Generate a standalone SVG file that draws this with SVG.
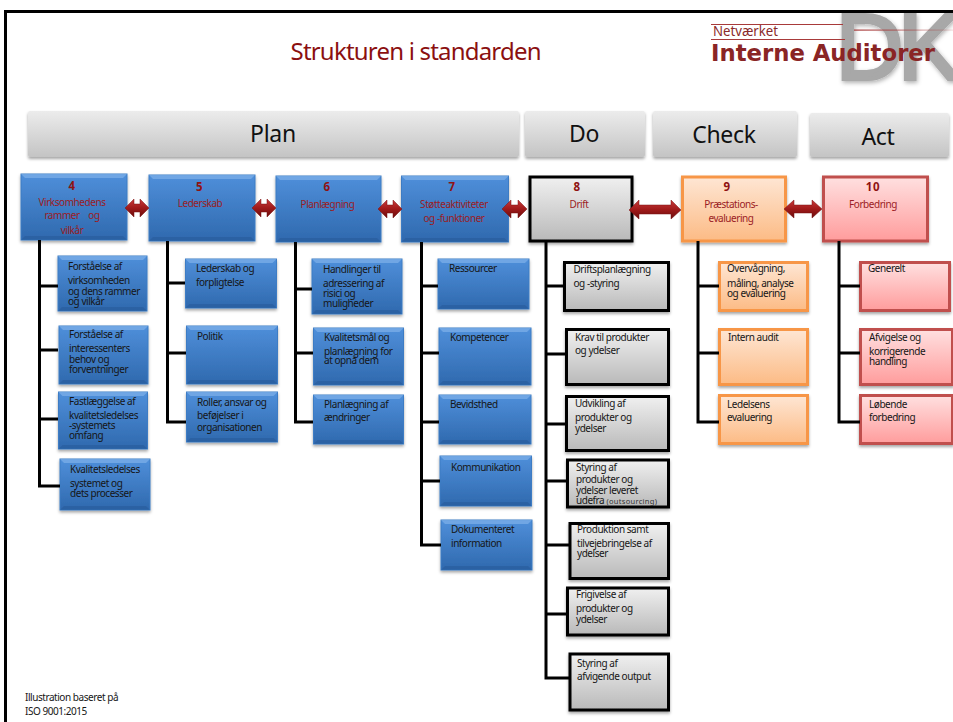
<svg xmlns="http://www.w3.org/2000/svg" width="953" height="722" viewBox="0 0 953 722">
<defs>
<linearGradient id="gBlue" x1="0" y1="0" x2="0" y2="1"><stop offset="0" stop-color="#4f8fda"/><stop offset="1" stop-color="#2f69ae"/></linearGradient>
<linearGradient id="gGrey" x1="0" y1="0" x2="0" y2="1"><stop offset="0" stop-color="#f0f0f0"/><stop offset="1" stop-color="#b9b9b9"/></linearGradient>
<linearGradient id="gOrange" x1="0" y1="0" x2="0" y2="1"><stop offset="0" stop-color="#fee6d4"/><stop offset="1" stop-color="#fcbb85"/></linearGradient>
<linearGradient id="gPink" x1="0" y1="0" x2="0" y2="1"><stop offset="0" stop-color="#ffe0e0"/><stop offset="1" stop-color="#ff9c9c"/></linearGradient>
<linearGradient id="gBar" x1="0" y1="0" x2="0" y2="1"><stop offset="0" stop-color="#ececec"/><stop offset="1" stop-color="#c4c4c4"/></linearGradient>
<linearGradient id="gArrow" x1="0" y1="0" x2="0" y2="1"><stop offset="0" stop-color="#c83a3a"/><stop offset="0.5" stop-color="#a01a1a"/><stop offset="1" stop-color="#6a0c0c"/></linearGradient>
<linearGradient id="gFade" x1="0" y1="0" x2="1" y2="0"><stop offset="0" stop-color="#a83a3a"/><stop offset="1" stop-color="#a83a3a" stop-opacity="0.15"/></linearGradient>
<filter id="sh" x="-10%" y="-10%" width="120%" height="125%"><feDropShadow dx="0" dy="2" stdDeviation="1.5" flood-color="#000" flood-opacity="0.35"/></filter>
<filter id="shDK" x="-10%" y="-10%" width="120%" height="120%"><feDropShadow dx="1" dy="2" stdDeviation="2" flood-color="#000" flood-opacity="0.3"/></filter>
</defs>
<style>
text{font-family:"Noto Sans","DejaVu Sans",sans-serif;font-size:10px;fill:#161616;letter-spacing:-0.45px}
.blue{fill:url(#gBlue);stroke:#3d7cc4;stroke-width:1;filter:url(#sh)}
.grey{fill:url(#gGrey);stroke:#000;stroke-width:3;filter:url(#sh)}
.orange{fill:url(#gOrange);stroke:#f79646;stroke-width:3;filter:url(#sh)}
.pink{fill:url(#gPink);stroke:#c0504d;stroke-width:3;filter:url(#sh)}
.bar{fill:url(#gBar);filter:url(#sh)}
.bt{font-size:23px;fill:#111;text-anchor:middle;letter-spacing:-0.3px}
.num{font-weight:bold;font-size:11.5px;fill:#8f1212;text-anchor:middle;letter-spacing:0.6px}
.head{fill:#9b1c24;text-anchor:middle}
.sm{font-size:7.5px;letter-spacing:0.3px;fill:#333}
.con{fill:none;stroke:#000;stroke-width:3}
.arr{fill:url(#gArrow);stroke:#7a1010;stroke-width:0.5}
.bv{fill:#7fb0ea;opacity:.7}
.bd{fill:#1f4f8c;opacity:.35}
</style>
<rect width="953" height="722" fill="#fff"/>
<path d="M5.500 722V11.500H953" fill="none" stroke="#000" stroke-width="3"/>
<text x="416" y="60" style="font-size:24px;fill:#8b1010;letter-spacing:0" text-anchor="middle" textLength="251">Strukturen i standarden</text>

<g id="logo">
<text x="836" y="79" style="font-family:'Liberation Sans',sans-serif;font-size:93px;fill:#a8a8a8;stroke:#a8a8a8;stroke-width:4;letter-spacing:-5px;filter:url(#shDK)">DK</text>
<path d="M711 24.500H843M711 39.500H845" fill="none" stroke="#a83a3a" stroke-width="1.200"/>
<rect x="854" y="29.500" width="99" height="1.200" fill="url(#gFade)"/>
<text x="713" y="36" style="font-size:14px;fill:#8a2a2a;letter-spacing:0" textLength="65" lengthAdjust="spacingAndGlyphs">Netværket</text>
<text x="711" y="61" style="font-size:23px;font-weight:bold;fill:#8a2525;letter-spacing:0;font-family:'DejaVu Sans',sans-serif" textLength="224" lengthAdjust="spacingAndGlyphs">Interne Auditorer</text>
</g>

<g id="bar-plan"><rect class="bar" x="28" y="111" width="491" height="46" rx="2"/><text class="bt" x="273" y="142">Plan</text></g>
<g id="bar-do"><rect class="bar" x="525" y="111" width="120" height="46" rx="2"/><text class="bt" x="584" y="142">Do</text></g>
<g id="bar-check"><rect class="bar" x="653" y="111" width="144" height="46" rx="2"/><text class="bt" x="724" y="143">Check</text></g>
<g id="bar-act"><rect class="bar" x="810" y="113" width="139" height="44" rx="2"/><text class="bt" x="878" y="145">Act</text></g>

<g id="n4"><rect class="blue" x="21" y="174" width="106" height="66"/><path class="bv" d="M21 174H127L123 178H25Z"/><path class="bd" d="M21 240H127L123 236H25Z"/>
<text class="num" x="72" y="190">4</text><text class="head" x="72" y="206">Virksomhedens</text><text class="head" x="72" y="219" xml:space="preserve">rammer    og</text><text class="head" x="72" y="234">vilkår</text></g>
<g id="n4a"><rect class="blue" x="58" y="256" width="89" height="55"/><path class="bv" d="M58 256H147L143 260H62Z"/><path class="bd" d="M58 311H147L143 307H62Z"/>
<text x="68" y="270">Forståelse af</text><text x="68" y="284">virksomheden</text><text x="68" y="295">og dens rammer</text><text x="68" y="305">og vilkår</text></g>
<g id="n4b"><rect class="blue" x="59" y="326" width="89" height="58"/><path class="bv" d="M59 326H148L144 330H63Z"/><path class="bd" d="M59 384H148L144 380H63Z"/>
<text x="69" y="338">Forståelse af</text><text x="69" y="352">interessenters</text><text x="69" y="363">behov og</text><text x="69" y="373">forventninger</text></g>
<g id="n4c"><rect class="blue" x="58.500" y="392" width="89" height="57"/><path class="bv" d="M58.500 392H147.500L143.500 396H62.500Z"/><path class="bd" d="M58.500 449H147.500L143.500 445H62.500Z"/>
<text x="69" y="405">Fastlæggelse af</text><text x="69" y="419">kvalitetsledelses</text><text x="69" y="429">-systemets</text><text x="69" y="439">omfang</text></g>
<g id="n4d"><rect class="blue" x="60" y="459" width="90" height="51"/><path class="bv" d="M60 459H150L146 463H64Z"/><path class="bd" d="M60 510H150L146 506H64Z"/>
<text x="70" y="473">Kvalitetsledelses</text><text x="70" y="487">systemet og</text><text x="70" y="497">dets processer</text></g>

<g id="n5"><rect class="blue" x="149" y="175" width="106" height="66"/><path class="bv" d="M149 175H255L251 179H153Z"/><path class="bd" d="M149 241H255L251 237H153Z"/>
<text class="num" x="199.500" y="191">5</text><text class="head" x="200" y="207">Lederskab</text></g>
<g id="n5a"><rect class="blue" x="185.500" y="259" width="91" height="49"/><path class="bv" d="M185.500 259H276.500L272.500 263H189.500Z"/><path class="bd" d="M185.500 308H276.500L272.500 304H189.500Z"/>
<text x="196" y="272">Lederskab og</text><text x="196" y="286">forpligtelse</text></g>
<g id="n5b"><rect class="blue" x="186.500" y="326" width="91" height="58"/><path class="bv" d="M186.500 326H277.500L273.500 330H190.500Z"/><path class="bd" d="M186.500 384H277.500L273.500 380H190.500Z"/>
<text x="197" y="340">Politik</text></g>
<g id="n5c"><rect class="blue" x="186.500" y="392" width="91" height="50"/><path class="bv" d="M186.500 392H277.500L273.500 396H190.500Z"/><path class="bd" d="M186.500 442H277.500L273.500 438H190.500Z"/>
<text x="197" y="406">Roller, ansvar og</text><text x="197" y="419">beføjelser i</text><text x="197" y="431">organisationen</text></g>

<g id="n6"><rect class="blue" x="276" y="176" width="105" height="66"/><path class="bv" d="M276 176H381L377 180H280Z"/><path class="bd" d="M276 242H381L377 238H280Z"/>
<text class="num" x="327" y="191">6</text><text class="head" x="327.500" y="208">Planlægning</text></g>
<g id="n6a"><rect class="blue" x="312" y="259" width="90" height="55"/><path class="bv" d="M312 259H402L398 263H316Z"/><path class="bd" d="M312 314H402L398 310H316Z"/>
<text x="323" y="273">Handlinger til</text><text x="323" y="287">adressering af</text><text x="323" y="297">risici og</text><text x="323" y="307">muligheder</text></g>
<g id="n6b"><rect class="blue" x="313.500" y="328" width="90" height="57"/><path class="bv" d="M313.500 328H403.500L399.500 332H317.500Z"/><path class="bd" d="M313.500 385H403.500L399.500 381H317.500Z"/>
<text x="324" y="341">Kvalitetsmål og</text><text x="324" y="355">planlægning for</text><text x="324" y="364">at opnå dem</text></g>
<g id="n6c"><rect class="blue" x="313.500" y="395" width="90" height="49"/><path class="bv" d="M313.500 395H403.500L399.500 399H317.500Z"/><path class="bd" d="M313.500 444H403.500L399.500 440H317.500Z"/>
<text x="324" y="408">Planlægning af</text><text x="324" y="421">ændringer</text></g>

<g id="n7"><rect class="blue" x="401.500" y="176" width="107" height="66"/><path class="bv" d="M401.500 176H508.500L504.500 180H405.500Z"/><path class="bd" d="M401.500 242H508.500L504.500 238H405.500Z"/>
<text class="num" x="452" y="191">7</text><text class="head" x="454" y="208">Støtteaktiviteter</text><text class="head" x="454" y="222">og  -funktioner</text></g>
<g id="n7a"><rect class="blue" x="438" y="259" width="91" height="50"/><path class="bv" d="M438 259H529L525 263H442Z"/><path class="bd" d="M438 309H529L525 305H442Z"/>
<text x="449" y="272">Ressourcer</text></g>
<g id="n7b"><rect class="blue" x="439" y="328" width="92" height="57"/><path class="bv" d="M439 328H531L527 332H443Z"/><path class="bd" d="M439 385H531L527 381H443Z"/>
<text x="450" y="341">Kompetencer</text></g>
<g id="n7c"><rect class="blue" x="439" y="395" width="92" height="49"/><path class="bv" d="M439 395H531L527 399H443Z"/><path class="bd" d="M439 444H531L527 440H443Z"/>
<text x="450" y="408">Bevidsthed</text></g>
<g id="n7d"><rect class="blue" x="440" y="456" width="91.500" height="50"/><path class="bv" d="M440 456H531.500L527.500 460H444Z"/><path class="bd" d="M440 506H531.500L527.500 502H444Z"/>
<text x="451" y="471">Kommunikation</text></g>
<g id="n7e"><rect class="blue" x="441" y="520" width="91" height="50"/><path class="bv" d="M441 520H532L528 524H445Z"/><path class="bd" d="M441 570H532L528 566H445Z"/>
<text x="451" y="533">Dokumenteret</text><text x="451" y="547">information</text></g>

<g id="n8"><rect class="grey" x="530" y="177" width="102" height="64"/>
<text class="num" x="577" y="191">8</text><text class="head" x="579" y="208">Drift</text></g>
<g id="n8a"><rect class="grey" x="564.500" y="262.500" width="104" height="48"/><text x="573.500" y="273">Driftsplanlægning</text><text x="573.500" y="287">og -styring</text></g>
<g id="n8b"><rect class="grey" x="566.500" y="329.500" width="102" height="55"/><text x="575" y="341">Krav til produkter</text><text x="575" y="354">og ydelser</text></g>
<g id="n8c"><rect class="grey" x="566.500" y="396.500" width="102" height="54"/><text x="575" y="407">Udvikling af</text><text x="575" y="421">produkter og</text><text x="575" y="432">ydelser</text></g>
<g id="n8d"><rect class="grey" x="567.500" y="460" width="101" height="47"/><text x="576" y="471">Styring af</text><text x="576" y="483">produkter og</text><text x="576" y="494">ydelser leveret</text><text x="576" y="504">udefra <tspan class="sm">(outsourcing)</tspan></text></g>
<g id="n8e"><rect class="grey" x="570" y="523.500" width="98.500" height="55"/><text x="577" y="533">Produktion samt</text><text x="577" y="547">tilvejebringelse af</text><text x="577" y="557">ydelser</text></g>
<g id="n8f"><rect class="grey" x="567.500" y="588" width="101" height="47"/><text x="576" y="598">Frigivelse af</text><text x="576" y="612">produkter og</text><text x="576" y="623">ydelser</text></g>
<g id="n8g"><rect class="grey" x="570" y="654" width="98.500" height="56"/><text x="577" y="667">Styring af</text><text x="577" y="680">afvigende output</text></g>

<g id="n9"><rect class="orange" x="682.500" y="177" width="103" height="64"/>
<text class="num" x="727" y="191">9</text><text class="head" x="731" y="208">Præstations-</text><text class="head" x="731" y="222">evaluering</text></g>
<g id="n9a"><rect class="orange" x="719.500" y="262.500" width="88" height="48"/><text x="727" y="272">Overvågning,</text><text x="727" y="287">måling, analyse</text><text x="727" y="297">og evaluering</text></g>
<g id="n9b"><rect class="orange" x="719.500" y="329.500" width="88" height="55"/><text x="728" y="341">Intern  audit</text></g>
<g id="n9c"><rect class="orange" x="719.500" y="395.500" width="88" height="48"/><text x="727" y="408">Ledelsens</text><text x="727" y="421">evaluering</text></g>

<g id="n10"><rect class="pink" x="823.500" y="177" width="104" height="64"/>
<text class="num" x="873" y="191">10</text><text class="head" x="873" y="208">Forbedring</text></g>
<g id="n10a"><rect class="pink" x="860.500" y="262.500" width="89" height="48"/><text x="868" y="272">Generelt</text></g>
<g id="n10b"><rect class="pink" x="860.500" y="329.500" width="92" height="55"/><text x="869" y="341">Afvigelse og</text><text x="869" y="355">korrigerende</text><text x="869" y="365">handling</text></g>
<g id="n10c"><rect class="pink" x="860.500" y="395.500" width="92" height="48"/><text x="869" y="408">Løbende</text><text x="869" y="421">forbedring</text></g>

<g id="connectors">
<path class="con" d="M39.500 240V486H60M40 286H58M40 350H58M40 419H58"/>
<path class="con" d="M167.500 241V422H186M168 283H185M168 353H186"/>
<path class="con" d="M295.500 242V422H313M296 289H312M296 353H313"/>
<path class="con" d="M421.500 242V545H441M422 286H438M422 353H439M422 422H439M422 481H440"/>
<path class="con" d="M546 241V678H570M547 286H564M547 354H566M547 424H566M547 481H567M547 545H570M547 614H567"/>
<path class="con" d="M698 241V422H719M699 286H719M699 353H719"/>
<path class="con" d="M839 241V422H860M840 286H860M840 353H860"/>
<polygon class="arr" points="125,208 134,199 134,204 140,204 140,199 149,208 140,217 140,212 134,212 134,217"/>
<polygon class="arr" points="252,208 261,199 261,204 267,204 267,199 276,208 267,217 267,212 261,212 261,217"/>
<polygon class="arr" points="378,209 387,200 387,205 393,205 393,200 402,209 393,218 393,213 387,213 387,218"/>
<polygon class="arr" points="502,209 511,200 511,205 518,205 518,200 527,209 518,218 518,213 511,213 511,218"/>
<polygon class="arr" points="629,210 639,200 639,205 671,205 671,200 681,210 671,219 671,214 639,214 639,219"/>
<polygon class="arr" points="784,209 794,200 794,205 812,205 812,200 822,209 812,218 812,213 794,213 794,218"/>
</g>

<text x="25" y="701">Illustration baseret på</text>
<text x="25" y="715">ISO 9001:2015</text>
</svg>
